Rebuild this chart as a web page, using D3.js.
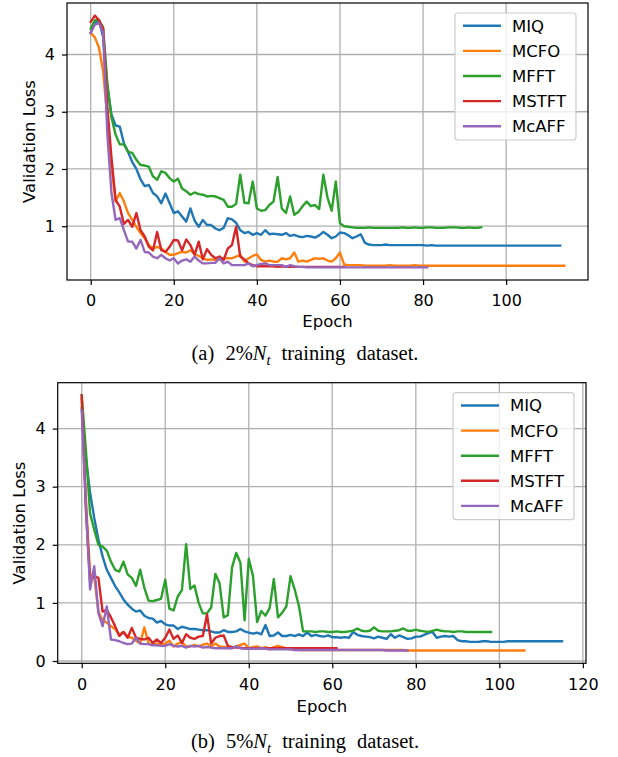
<!DOCTYPE html>
<html>
<head>
<meta charset="utf-8">
<script src="https://cdn.jsdelivr.net/npm/d3@7"></script>
<style>
  body { margin: 0; background: #fff; }
  svg text { font-family: "DejaVu Sans", sans-serif; fill: #000; }
  .caption text, text.caption { font-family: "Liberation Serif", serif; }
</style>
</head>
<body>
<svg id="chart" width="618" height="757"></svg>
<script>
// model names (legend order)
const models = ["MIQ", "MCFO", "MFFT", "MSTFT", "McAFF"];

// (a) 2% N_t : validation loss per epoch
const miqA = [4.38, 4.55, 4.6, 4.3, 3.45, 2.95, 2.76, 2.74, 2.45, 2.3,
  2.12, 2.0, 1.82, 1.7, 1.72, 1.58, 1.52, 1.4, 1.57, 1.4,
  1.23, 1.26, 1.17, 1.08, 1.31, 1.1, 0.99, 1.11, 1.02, 1.02,
  0.96, 0.93, 0.97, 1.14, 1.12, 1.06, 0.93, 0.88, 0.9, 0.85,
  0.88, 0.85, 0.93, 0.86, 0.87, 0.86, 0.85, 0.88, 0.83, 0.85,
  0.82, 0.81, 0.83, 0.82, 0.8, 0.84, 0.9, 0.85, 0.79, 0.82,
  0.89, 0.88, 0.84, 0.79, 0.82, 0.86, 0.71, 0.68, 0.67, 0.67,
  0.67, 0.68, 0.67, 0.67, 0.67, 0.67, 0.67, 0.67, 0.67, 0.67,
  0.67, 0.66, 0.67, 0.66, 0.66, 0.66, 0.66, 0.66, 0.66, 0.66,
  0.66, 0.66, 0.66, 0.66, 0.66, 0.66, 0.66, 0.66, 0.66, 0.66,
  0.66, 0.66, 0.66, 0.66, 0.66, 0.66, 0.66, 0.66, 0.66, 0.66,
  0.66, 0.66, 0.66, 0.66];
const mcfoA = [4.38, 4.3, 4.12, 3.7, 2.9, 2.05, 1.43, 1.58, 1.43, 1.23,
  1.11, 0.99, 0.88, 0.79, 0.67, 0.61, 0.64, 0.61, 0.55, 0.5,
  0.5, 0.53, 0.55, 0.54, 0.58, 0.51, 0.48, 0.44, 0.41, 0.42,
  0.41, 0.42, 0.44, 0.44, 0.44, 0.47, 0.5, 0.38, 0.44, 0.48,
  0.51, 0.41, 0.38, 0.4, 0.38, 0.38, 0.44, 0.42, 0.44, 0.54,
  0.38, 0.4, 0.38, 0.41, 0.44, 0.43, 0.44, 0.4, 0.38, 0.44,
  0.54, 0.33, 0.32, 0.32, 0.32, 0.32, 0.31, 0.31, 0.31, 0.31,
  0.31, 0.31, 0.32, 0.31, 0.31, 0.31, 0.31, 0.31, 0.32, 0.31,
  0.31, 0.31, 0.31, 0.31, 0.31, 0.31, 0.31, 0.31, 0.31, 0.31,
  0.31, 0.31, 0.31, 0.31, 0.31, 0.31, 0.31, 0.31, 0.31, 0.31,
  0.31, 0.31, 0.31, 0.31, 0.31, 0.31, 0.31, 0.31, 0.31, 0.31,
  0.31, 0.31, 0.31, 0.31, 0.31];
const mfftA = [4.45, 4.6, 4.6, 4.47, 3.5, 2.9, 2.6, 2.43, 2.43, 2.3,
  2.28, 2.16, 2.07, 2.06, 2.04, 1.87, 1.81, 1.96, 1.93, 1.84,
  1.78, 1.83, 1.66, 1.61, 1.55, 1.59, 1.56, 1.55, 1.52, 1.53,
  1.52, 1.49, 1.46, 1.34, 1.34, 1.39, 1.9, 1.41, 1.4, 1.78,
  1.31, 1.27, 1.28, 1.37, 1.43, 1.86, 1.31, 1.23, 1.52, 1.2,
  1.25, 1.35, 1.43, 1.35, 1.37, 1.3, 1.9, 1.5, 1.27, 1.78,
  1.05, 1.0, 0.99, 0.98, 0.97, 0.97, 0.97, 0.98, 0.97, 0.97,
  0.97, 0.97, 0.97, 0.97, 0.97, 0.98, 0.97, 0.97, 0.98, 0.97,
  0.97, 0.98, 0.98, 0.97, 0.97, 0.97, 0.98, 0.98, 0.98, 0.97,
  0.97, 0.98, 0.97, 0.97, 0.98];
const mstftA = [4.57, 4.68, 4.6, 4.45, 3.1, 2.2, 1.46, 1.34, 1.04, 1.11,
  0.99, 1.23, 0.93, 0.82, 0.64, 0.58, 0.9, 0.58, 0.55, 0.64,
  0.76, 0.75, 0.58, 0.77, 0.67, 0.5, 0.73, 0.42, 0.6, 0.5,
  0.44, 0.47, 0.41, 0.61, 0.67, 0.99, 0.47, 0.42, 0.35, 0.32,
  0.3, 0.3, 0.3, 0.3, 0.3, 0.29, 0.3, 0.29, 0.29, 0.29,
  0.29, 0.29, 0.29, 0.29, 0.29, 0.29, 0.29, 0.29, 0.29, 0.29,
  0.29, 0.29];
const mcaffA = [4.38, 4.52, 4.55, 4.38, 2.63, 1.58, 1.11, 1.14, 0.93, 0.73,
  0.73, 0.61, 0.76, 0.55, 0.54, 0.47, 0.44, 0.5, 0.44, 0.4,
  0.44, 0.35, 0.4, 0.42, 0.38, 0.47, 0.4, 0.35, 0.35, 0.36,
  0.36, 0.44, 0.35, 0.38, 0.32, 0.32, 0.32, 0.32, 0.35, 0.3,
  0.32, 0.34, 0.35, 0.32, 0.32, 0.32, 0.32, 0.29, 0.32, 0.3,
  0.29, 0.29, 0.28, 0.28, 0.28, 0.28, 0.28, 0.28, 0.28, 0.28,
  0.28, 0.28, 0.28, 0.28, 0.28, 0.28, 0.28, 0.28, 0.28, 0.28,
  0.28, 0.28, 0.28, 0.28, 0.28, 0.28, 0.28, 0.28, 0.28, 0.28,
  0.28, 0.28];

// (b) 5% N_t
const miqB = [4.35, 3.5, 2.9, 2.46, 2.09, 1.8, 1.57, 1.43, 1.29, 1.18,
  1.06, 0.97, 0.9, 0.85, 0.87, 0.78, 0.74, 0.73, 0.66, 0.69,
  0.63, 0.61, 0.61, 0.55, 0.59, 0.57, 0.55, 0.55, 0.54, 0.53,
  0.53, 0.51, 0.49, 0.49, 0.53, 0.5, 0.5, 0.51, 0.55, 0.51,
  0.49, 0.47, 0.49, 0.46, 0.62, 0.43, 0.44, 0.49, 0.43, 0.43,
  0.45, 0.43, 0.46, 0.43, 0.49, 0.43, 0.45, 0.43, 0.42, 0.44,
  0.41, 0.41, 0.4, 0.41, 0.4, 0.5, 0.45, 0.43, 0.42, 0.41,
  0.39, 0.42, 0.4, 0.38, 0.46, 0.4, 0.44, 0.41, 0.38, 0.39,
  0.42, 0.42, 0.45, 0.48, 0.5, 0.4, 0.42, 0.43, 0.42, 0.43,
  0.36, 0.34, 0.34, 0.33, 0.33, 0.33, 0.34, 0.34, 0.33, 0.33,
  0.33, 0.33, 0.34, 0.34, 0.34, 0.34, 0.34, 0.34, 0.34, 0.34,
  0.34, 0.34, 0.34, 0.34, 0.34, 0.34];
const mcfoB = [4.5, 2.8, 1.5, 1.45, 0.85, 0.7, 0.66, 0.6, 0.55, 0.45,
  0.5, 0.42, 0.4, 0.35, 0.3, 0.58, 0.3, 0.28, 0.3, 0.28,
  0.3, 0.35, 0.25, 0.3, 0.32, 0.25, 0.25, 0.28, 0.25, 0.28,
  0.3, 0.25, 0.3, 0.25, 0.24, 0.24, 0.22, 0.25, 0.28, 0.3,
  0.22, 0.24, 0.25, 0.22, 0.24, 0.2, 0.24, 0.26, 0.24, 0.22,
  0.2, 0.2, 0.19, 0.19, 0.19, 0.19, 0.19, 0.19, 0.19, 0.19,
  0.19, 0.19, 0.19, 0.19, 0.19, 0.19, 0.19, 0.19, 0.19, 0.19,
  0.19, 0.19, 0.19, 0.19, 0.19, 0.19, 0.19, 0.19, 0.18, 0.18,
  0.18, 0.18, 0.18, 0.18, 0.18, 0.18, 0.18, 0.18, 0.18, 0.18,
  0.18, 0.18, 0.18, 0.18, 0.18, 0.18, 0.18, 0.18, 0.18, 0.18,
  0.18, 0.18, 0.18, 0.18, 0.18, 0.18, 0.18];
const mfftB = [4.57, 3.63, 2.54, 2.26, 2.0, 1.97, 1.9, 1.71, 1.57, 1.54,
  1.71, 1.49, 1.43, 1.29, 1.57, 1.26, 1.04, 1.03, 1.05, 1.07,
  1.4, 0.9, 0.87, 1.11, 1.22, 2.01, 1.24, 1.3, 1.0, 0.82,
  0.82, 0.92, 1.5, 1.34, 0.75, 0.79, 1.61, 1.86, 1.69, 0.7,
  1.76, 1.47, 0.67, 0.86, 0.78, 0.91, 1.41, 0.75, 0.83, 0.94,
  1.46, 1.23, 0.95, 0.51, 0.51, 0.51, 0.5, 0.51, 0.51, 0.5,
  0.5, 0.51, 0.5, 0.5, 0.51, 0.52, 0.56, 0.52, 0.51, 0.52,
  0.58, 0.52, 0.51, 0.51, 0.51, 0.52, 0.53, 0.56, 0.52, 0.52,
  0.54, 0.52, 0.51, 0.5, 0.52, 0.54, 0.52, 0.51, 0.51, 0.5,
  0.51, 0.51, 0.5, 0.5, 0.5, 0.5, 0.5, 0.5, 0.5];
const mstftB = [4.57, 2.6, 1.37, 1.46, 1.43, 0.85, 0.88, 0.75, 0.6, 0.43,
  0.5, 0.4, 0.57, 0.4, 0.38, 0.37, 0.4, 0.31, 0.37, 0.31,
  0.4, 0.54, 0.38, 0.44, 0.31, 0.46, 0.4, 0.38, 0.42, 0.43,
  0.8, 0.3, 0.4, 0.43, 0.44, 0.26, 0.24, 0.23, 0.23, 0.22,
  0.22, 0.22, 0.22, 0.22, 0.22, 0.22, 0.22, 0.22, 0.22, 0.22,
  0.22, 0.22, 0.22, 0.22, 0.22, 0.22, 0.22, 0.22, 0.22, 0.22,
  0.22, 0.22];
const mcaffB = [4.31, 2.7, 1.23, 1.63, 0.83, 0.6, 0.94, 0.37, 0.36, 0.34,
  0.31, 0.29, 0.3, 0.4, 0.3, 0.29, 0.29, 0.27, 0.27, 0.26,
  0.26, 0.29, 0.26, 0.25, 0.26, 0.23, 0.26, 0.25, 0.26, 0.23,
  0.24, 0.23, 0.22, 0.22, 0.22, 0.22, 0.22, 0.25, 0.22, 0.21,
  0.21, 0.21, 0.21, 0.22, 0.21, 0.2, 0.2, 0.2, 0.2, 0.2,
  0.2, 0.19, 0.19, 0.19, 0.19, 0.19, 0.19, 0.19, 0.19, 0.19,
  0.19, 0.19, 0.19, 0.19, 0.19, 0.19, 0.19, 0.19, 0.19, 0.19,
  0.19, 0.19, 0.19, 0.18, 0.18, 0.18, 0.18, 0.18, 0.18];

// tick labels
const xTicksA = [0, 20, 40, 60, 80, 100];
const yTicksA = [1, 2, 3, 4];
const xTicksB = [0, 20, 40, 60, 80, 100, 120];
const yTicksB = [0, 1, 2, 3, 4];

const colors = ["#1f77b4", "#ff7f0e", "#2ca02c", "#d62728", "#9467bd"];

const svg = d3.select("#chart");

function drawPanel(id, box, seriesList, xTicks, yTicks) {
  // matplotlib style 5% margins around the data
  let maxEpoch = d3.max(seriesList, s => s.length - 1);
  let allVals = seriesList.flat();
  let lo = d3.min(allVals), hi = d3.max(allVals);
  let padX = maxEpoch * 0.05, padY = (hi - lo) * 0.05;

  let x = d3.scaleLinear()
    .domain([-padX, maxEpoch + padX])
    .range([box.left, box.right]);
  let y = d3.scaleLinear()
    .domain([lo - padY, hi + padY])
    .range([box.bottom, box.top]);

  let g = svg.append("g");

  g.append("clipPath").attr("id", "clip-" + id)
    .append("rect")
    .attr("x", box.left).attr("y", box.top)
    .attr("width", box.right - box.left).attr("height", box.bottom - box.top);

  // grid
  let grid = g.append("g").attr("stroke", "#b0b0b0").attr("stroke-width", 1.3);
  grid.selectAll(".gx").data(xTicks).join("line")
    .attr("x1", d => x(d)).attr("x2", d => x(d))
    .attr("y1", box.top).attr("y2", box.bottom);
  grid.selectAll(".gy").data(yTicks).join("line")
    .attr("x1", box.left).attr("x2", box.right)
    .attr("y1", d => y(d)).attr("y2", d => y(d));

  let line = d3.line()
    .x((d, i) => x(i))
    .y(d => y(d));

  let lines = g.append("g").attr("clip-path", `url(#clip-${id})`);
  seriesList.forEach((s, k) => {
    lines.append("path")
      .datum(s)
      .attr("fill", "none")
      .attr("stroke", colors[k])
      .attr("stroke-width", 2.4)
      .attr("stroke-linejoin", "round")
      .attr("stroke-linecap", "square")
      .attr("d", line);
  });

  // frame
  g.append("rect")
    .attr("x", box.left).attr("y", box.top)
    .attr("width", box.right - box.left).attr("height", box.bottom - box.top)
    .attr("fill", "none").attr("stroke", "#000").attr("stroke-width", 1.2);

  let xAxis = g.append("g")
    .attr("transform", `translate(0,${box.bottom})`)
    .call(d3.axisBottom(x).tickValues(xTicks).tickSize(5).tickPadding(10).tickFormat(d3.format("d")));
  let yAxis = g.append("g")
    .attr("transform", `translate(${box.left},0)`)
    .call(d3.axisLeft(y).tickValues(yTicks).tickSize(5).tickPadding(7).tickFormat(d3.format("d")));
  for (let ax of [xAxis, yAxis]) {
    ax.select(".domain").remove();
    ax.selectAll(".tick line").attr("stroke", "#000").attr("stroke-width", 1.2);
    ax.selectAll("text").attr("font-size", 16).attr("font-family", "DejaVu Sans");
  }

  g.append("text")
    .attr("x", (box.left + box.right) / 2)
    .attr("y", box.xLabelY)
    .attr("text-anchor", "middle")
    .attr("font-size", 16.5)
    .text("Epoch");

  g.append("text")
    .attr("transform", `translate(${box.yLabelX},${(box.top + box.bottom) / 2}) rotate(-90)`)
    .attr("text-anchor", "middle")
    .attr("font-size", 16.5)
    .text("Validation Loss");

  // legend, upper right
  let lw = 121, lh = 127;
  let lx = box.right - 12 - lw, ly = box.top + 10;
  let leg = g.append("g");
  leg.append("rect")
    .attr("x", lx).attr("y", ly).attr("width", lw).attr("height", lh)
    .attr("rx", 3)
    .attr("fill", "#fff").attr("fill-opacity", 0.8)
    .attr("stroke", "#cccccc").attr("stroke-width", 1.2);
  models.forEach((m, k) => {
    let cy = ly + 12.8 + k * 25.1;
    leg.append("line")
      .attr("x1", lx + 8).attr("x2", lx + 46)
      .attr("y1", cy).attr("y2", cy)
      .attr("stroke", colors[k]).attr("stroke-width", 2.4);
    leg.append("text")
      .attr("x", lx + 57).attr("y", cy)
      .attr("dy", "0.36em")
      .attr("font-size", 16.5)
      .text(m);
  });

  // caption
  let cap = g.append("text")
    .attr("class", "caption")
    .attr("x", box.capX).attr("y", box.capY)
    .attr("text-anchor", "middle")
    .attr("font-size", 20.5)
    .attr("word-spacing", 6);
  cap.append("tspan").text(box.capLabel + " " + box.capPct);
  cap.append("tspan").attr("font-style", "italic").text("N");
  cap.append("tspan").attr("font-style", "italic").attr("font-size", 14.5)
    .attr("dy", 4.5).text("t");
  cap.append("tspan").attr("dy", -4.5).text(" training dataset.");
}

drawPanel("a",
  { left: 67, right: 588, top: 3, bottom: 280, xLabelY: 327, yLabelX: 35,
    capX: 305, capY: 360, capLabel: "(a)", capPct: "2%" },
  [miqA, mcfoA, mfftA, mstftA, mcaffA], xTicksA, yTicksA);

drawPanel("b",
  { left: 57.7, right: 586, top: 382.7, bottom: 663.3, xLabelY: 712, yLabelX: 25,
    capX: 305, capY: 748, capLabel: "(b)", capPct: "5%" },
  [miqB, mcfoB, mfftB, mstftB, mcaffB], xTicksB, yTicksB);
</script>
</body>
</html>
